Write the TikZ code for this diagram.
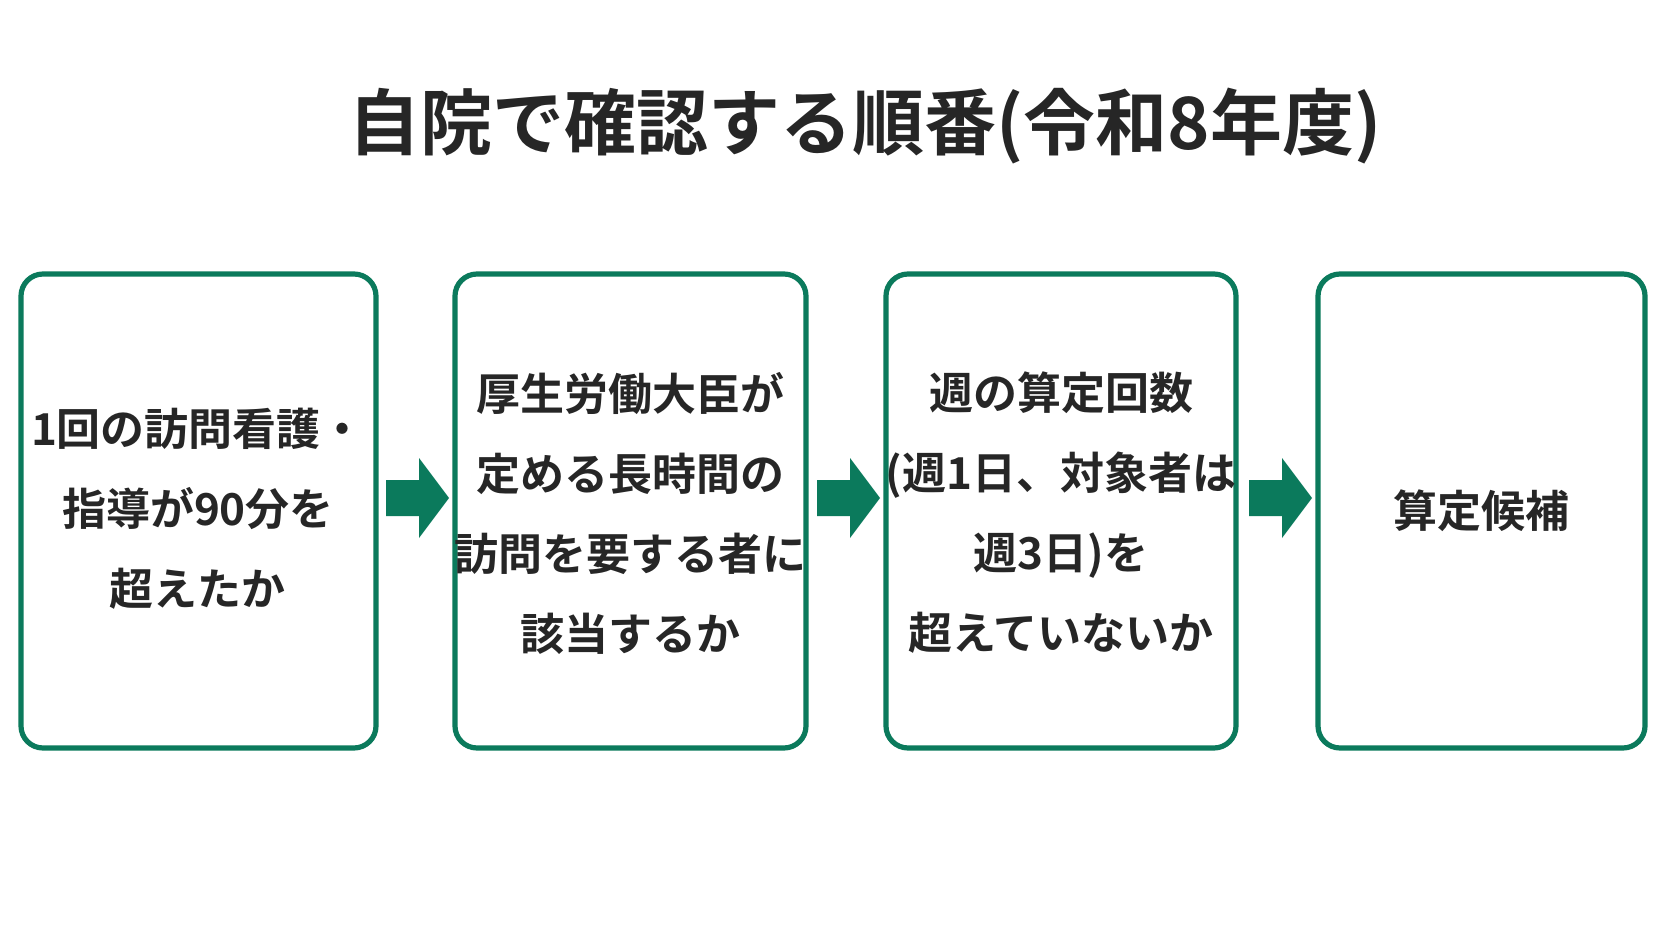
\documentclass[tikz,border=0pt]{standalone}
\usepackage{fontspec}
\setmainfont{Noto Sans CJK JP}[BoldFont={* Bold}]
\definecolor{grn}{HTML}{0B7A5C}
\begin{document}
\begin{tikzpicture}[x=0.5pt,y=-0.5pt,
  box/.style={draw=grn,line width=2.6pt,rounded corners=11pt,fill=white},
  txt/.style={align=center,font=\bfseries\fontsize{22}{40}\selectfont,text=black!85},
  arr/.style={fill=grn,draw=none}]
\useasboundingbox (0,0) rectangle (1672,941);
\fill[white] (0,0) rectangle (1672,941);
\node[font=\bfseries\fontsize{36}{40}\selectfont,text=black!85] (title) at (865,126) {自院で確認する順番(令和8年度)};
\draw[box] (21,274) rectangle (376,748);
\draw[box] (455,274) rectangle (806,748);
\draw[box] (886,274) rectangle (1236,748);
\draw[box] (1318,274) rectangle (1645,748);
\node[txt] (t1) at (198,509) {1回の訪問看護・\\指導が90分を\\超えたか};
\node[txt] (t2) at (630,513) {厚生労働大臣が\\定める長時間の\\訪問を要する者に\\該当するか};
\node[txt] (t3) at (1061,513) {週の算定回数\\(週1日、対象者は\\週3日)を\\超えていないか};
\node[txt] (t4) at (1481,511) {算定候補};
\foreach \x in {386,817,1249}{
  \fill[arr] (\x,480) -- (\x+33,480) -- (\x+33,458) -- (\x+63,498) -- (\x+33,538) -- (\x+33,516) -- (\x,516) -- cycle;
}
\end{tikzpicture}
\end{document}
